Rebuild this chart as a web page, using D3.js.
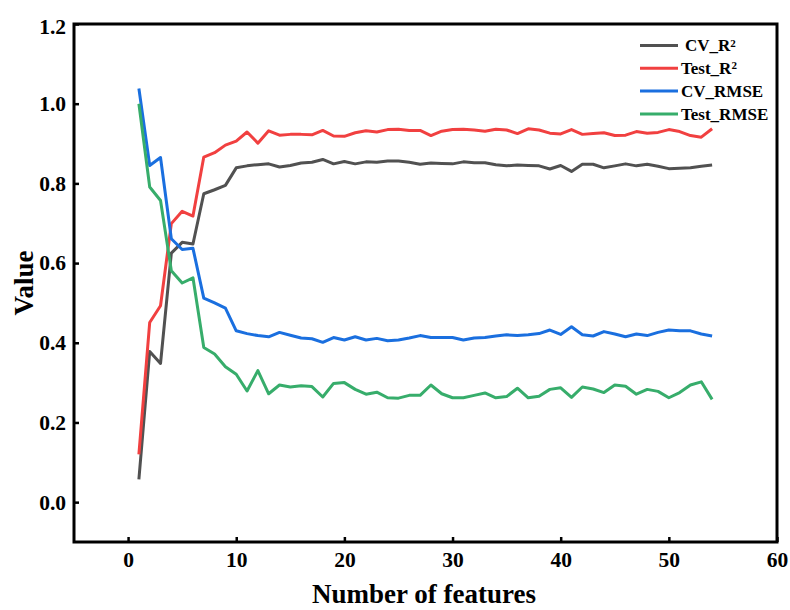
<!DOCTYPE html>
<html>
<head>
<meta charset="utf-8">
<script src="https://cdn.jsdelivr.net/npm/d3@7"></script>
<style>
  body { margin: 0; background: #fff; }
  svg text { font-family: "Liberation Serif", "Times New Roman", serif; font-weight: bold; fill: #000; }
</style>
</head>
<body>
<div id="chart"></div>
<script>
// number of features, 1..54
var features = d3.range(1, 55);

var cvR2 = [0.057, 0.378, 0.348, 0.625, 0.652, 0.648, 0.774, 0.784, 0.795, 0.839,
  0.844, 0.847, 0.849, 0.841, 0.845, 0.851, 0.853, 0.860, 0.849, 0.855,
  0.849, 0.854, 0.853, 0.856, 0.856, 0.853, 0.848, 0.851, 0.850, 0.849,
  0.854, 0.852, 0.852, 0.847, 0.844, 0.846, 0.845, 0.844, 0.836, 0.845,
  0.830, 0.848, 0.848, 0.839, 0.844, 0.849, 0.844, 0.848, 0.843, 0.837,
  0.838, 0.839, 0.843, 0.846];

var testR2 = [0.120, 0.451, 0.493, 0.699, 0.730, 0.718, 0.866, 0.877, 0.896, 0.906,
  0.929, 0.901, 0.932, 0.921, 0.923, 0.923, 0.922, 0.933, 0.919, 0.918,
  0.927, 0.932, 0.929, 0.935, 0.936, 0.933, 0.933, 0.920, 0.931, 0.935,
  0.936, 0.934, 0.931, 0.936, 0.934, 0.925, 0.937, 0.934, 0.926, 0.924,
  0.935, 0.923, 0.925, 0.927, 0.920, 0.921, 0.930, 0.926, 0.928, 0.935,
  0.930, 0.920, 0.916, 0.937];

var cvRmse = [1.038, 0.845, 0.865, 0.661, 0.634, 0.637, 0.512, 0.500, 0.487, 0.430,
  0.423, 0.418, 0.415, 0.426, 0.419, 0.412, 0.410, 0.401, 0.413, 0.407,
  0.415, 0.407, 0.411, 0.405, 0.407, 0.412, 0.418, 0.413, 0.413, 0.413,
  0.407, 0.412, 0.413, 0.417, 0.420, 0.418, 0.420, 0.423, 0.432, 0.421,
  0.440, 0.420, 0.417, 0.428, 0.422, 0.415, 0.422, 0.418, 0.426, 0.432,
  0.430, 0.430, 0.422, 0.417];

var testRmse = [1.000, 0.791, 0.757, 0.581, 0.550, 0.563, 0.388, 0.372, 0.340, 0.321,
  0.279, 0.330, 0.272, 0.294, 0.289, 0.292, 0.290, 0.264, 0.298, 0.300,
  0.283, 0.271, 0.276, 0.262, 0.261, 0.268, 0.268, 0.294, 0.272, 0.262,
  0.262, 0.268, 0.274, 0.262, 0.265, 0.286, 0.262, 0.266, 0.283, 0.287,
  0.263, 0.289, 0.284, 0.275, 0.294, 0.291, 0.271, 0.283, 0.278, 0.262,
  0.275, 0.294, 0.302, 0.258];

var seriesNames = ["CV_R", "Test_R", "CV_RMSE", "Test_RMSE"];
var seriesSup = ["2", "2", "", ""];
var seriesColors = ["#515151", "#F14040", "#1A6FDF", "#37AD6B"];
var seriesValues = [cvR2, testR2, cvRmse, testRmse];

var xTicks = [0, 10, 20, 30, 40, 50, 60];
var yTicks = [0.0, 0.2, 0.4, 0.6, 0.8, 1.0, 1.2];

var width = 790, height = 610;
var margin = { top: 24, right: 13, bottom: 68, left: 74 };
var plotW = width - margin.left - margin.right;
var plotH = height - margin.top - margin.bottom;

var svg = d3.select("#chart").append("svg")
  .attr("width", width)
  .attr("height", height);

var x = d3.scaleLinear().domain([-5, 60]).range([0, plotW]);
var y = d3.scaleLinear().domain([-0.1, 1.2]).range([plotH, 0]);

var g = svg.append("g")
  .attr("transform", `translate(${margin.left},${margin.top})`);

// lines
var line = d3.line()
  .x((d, i) => x(features[i]))
  .y(d => y(d));

seriesValues.forEach(function (vals, k) {
  g.append("path")
    .datum(vals)
    .attr("fill", "none")
    .attr("stroke", seriesColors[k])
    .attr("stroke-width", 3)
    .attr("stroke-linejoin", "round")
    .attr("d", line);
});

// axes (ticks pointing inward)
var xAxis = g.append("g")
  .attr("transform", `translate(0,${plotH})`)
  .call(d3.axisBottom(x).tickValues(xTicks).tickSizeInner(-5).tickSizeOuter(0).tickPadding(10).tickFormat(d3.format("d")));

var yAxis = g.append("g")
  .call(d3.axisLeft(y).tickValues(yTicks).tickSizeInner(-5).tickSizeOuter(0).tickPadding(8).tickFormat(d3.format(".1f")));

[xAxis, yAxis].forEach(function (a) {
  a.attr("font-family", null);
  a.select(".domain").remove();
  a.selectAll(".tick line").attr("stroke", "#000").attr("stroke-width", 2.5);
  a.selectAll(".tick text")
    .style("font-size", "21.5px");
});

// top label sits a little lower, as in the original
yAxis.selectAll(".tick text").filter(d => d === 1.2).attr("y", 3);

// frame
g.append("rect")
  .attr("width", plotW)
  .attr("height", plotH)
  .attr("fill", "none")
  .attr("stroke", "#000")
  .attr("stroke-width", 3);

// axis titles
svg.append("text")
  .attr("x", 424)
  .attr("y", 603)
  .attr("text-anchor", "middle")
  .style("font-size", "27px")
  .text("Number of features");

svg.append("text")
  .attr("transform", `translate(33,${margin.top + plotH / 2}) rotate(-90)`)
  .attr("text-anchor", "middle")
  .style("font-size", "27px")
  .text("Value");

// legend
var legend = svg.append("g").attr("transform", "translate(640,45.5)");
seriesNames.forEach(function (name, k) {
  var row = legend.append("g").attr("transform", `translate(0,${k * 22.8})`);
  row.append("line")
    .attr("x1", 0).attr("x2", 38)
    .attr("stroke", seriesColors[k])
    .attr("stroke-width", 3);
  var t = row.append("text")
    .attr("x", k === 0 ? 45 : 41)
    .attr("dy", "0.35em")
    .style("font-size", "17px")
    .text(name);
  if (seriesSup[k]) {
    t.append("tspan")
      .attr("dy", "-0.45em")
      .style("font-size", "11px")
      .text(seriesSup[k]);
  }
});
</script>
</body>
</html>
